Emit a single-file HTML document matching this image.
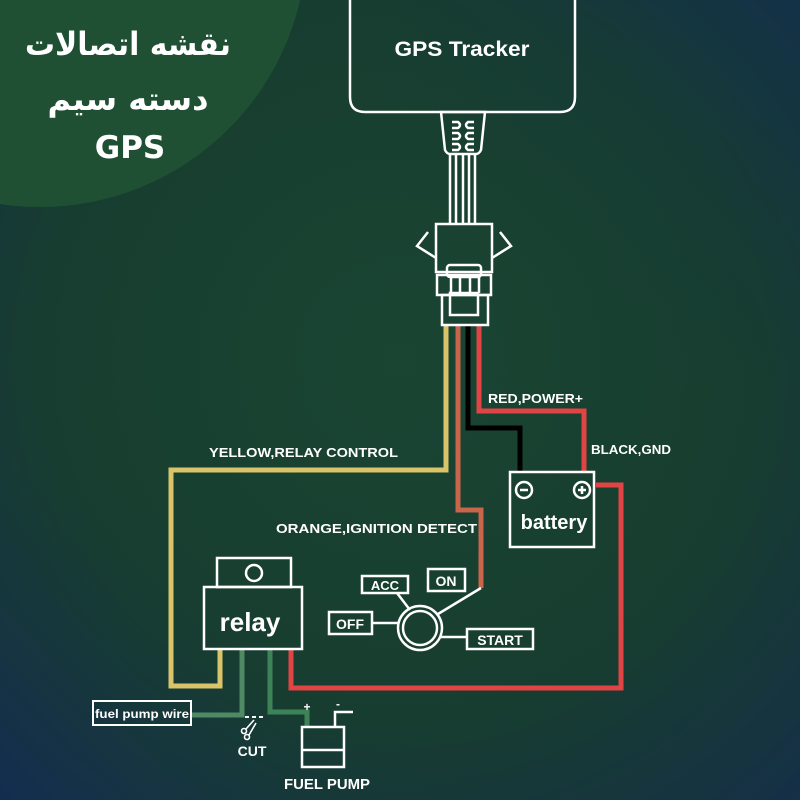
<!DOCTYPE html>
<html><head><meta charset="utf-8"><style>
html,body{margin:0;padding:0;width:800px;height:800px;overflow:hidden}
svg{display:block}
</style></head><body>
<svg width="800" height="800" viewBox="0 0 800 800" xmlns="http://www.w3.org/2000/svg">
<defs>
<radialGradient id="bg" cx="0.5" cy="0.45" r="0.75">
<stop offset="0" stop-color="#1a4532"/>
<stop offset="0.6" stop-color="#173d30"/>
<stop offset="1" stop-color="#152f48"/>
</radialGradient>
<linearGradient id="bg2" x1="1" y1="0" x2="0" y2="1">
<stop offset="0" stop-color="#12304a" stop-opacity="0.7"/>
<stop offset="0.35" stop-color="#17402f" stop-opacity="0"/>
<stop offset="0.7" stop-color="#17402f" stop-opacity="0"/>
<stop offset="1" stop-color="#142c52" stop-opacity="0.8"/>
</linearGradient>
</defs>
<rect width="800" height="800" fill="url(#bg)"/>
<rect width="800" height="800" fill="url(#bg2)"/>
<circle cx="40" cy="-60" r="267" fill="#1f5034"/>
<g font-family="'DejaVu Sans', 'Liberation Sans', sans-serif" fill="#fff" text-anchor="middle" font-weight="bold">
<text x="128" y="55" font-size="32" textLength="206" lengthAdjust="spacingAndGlyphs">نقشه اتصالات</text>
<text x="128" y="110" font-size="32">دسته سیم</text>
<text x="130" y="158" font-size="31">GPS</text>
</g>

<g fill="none" stroke-linejoin="miter">
<polyline points="446,325 446,470 171,470 171,686 220,686 220,649" stroke="#d9c46a" stroke-width="5"/>
<polyline points="458,325 458,510 481,510 481,588" stroke="#c8654a" stroke-width="5"/>
<polyline points="468,325 468,428 520,428 520,472" stroke="#000" stroke-width="5"/>
<polyline points="479,325 479,411 584,411 584,472" stroke="#e04444" stroke-width="5"/>
<polyline points="596,485 621,485 621,688 291,688 291,649" stroke="#e04444" stroke-width="5"/>
<polyline points="191,715 242,715 242,649" stroke="#4f8a64" stroke-width="5"/>
<polyline points="270,649 270,712 307,712 307,727" stroke="#3e8358" stroke-width="5"/>
</g>

<g fill="none" stroke="#fff" stroke-width="2.5">
<path d="M350,-5 V97 Q350,112 365,112 H560 Q575,112 575,97 V-5"/>
<path d="M441,112 H485 L481,150 Q479,154 476,154 H450 Q447,154 445,150 Z"/>
<path d="M452,122 h6 q4,3 0,6 h-6 M452,133 h6 q4,3 0,6 h-6 M452,144 h6 q4,3 0,6 h-6"/>
<path d="M474,122 h-6 q-4,3 0,6 h6 M474,133 h-6 q-4,3 0,6 h6 M474,144 h-6 q-4,3 0,6 h6"/>
<path d="M450,155 V224 M456,155 V224 M463,155 V224 M469,155 V224 M475,155 V224"/>
<rect x="436" y="224" width="56" height="48"/>
<path d="M428,232 L417,246 L436,258 M500,232 L511,246 L492,258"/>
<rect x="447" y="265" width="34" height="12" rx="3"/>
<rect x="437" y="275" width="54" height="20"/>
<path d="M451,277 V293 M460,277 V293 M470,277 V293 M479,277 V293"/>
<rect x="450" y="293" width="28" height="22"/>
<rect x="442" y="295" width="46" height="30"/>
<rect x="510" y="472" width="84" height="75"/>
<circle cx="524" cy="490" r="8"/><path d="M520,490 h8"/>
<circle cx="582" cy="490" r="8"/><path d="M578,490 h8 M582,486 v8"/>
<rect x="217" y="558" width="74" height="29"/>
<circle cx="254" cy="573" r="8"/>
<rect x="204" y="587" width="98" height="62"/>
<circle cx="420" cy="628" r="22"/>
<circle cx="420" cy="628" r="17"/>
<rect x="428" y="569" width="37" height="22"/>
<rect x="362" y="576" width="46" height="17"/>
<rect x="329" y="612" width="43" height="22"/>
<rect x="467" y="629" width="66" height="20"/>
<path d="M372,623 H398 M397,593 L410,610 M438,614 L481,588 M441,637 H467"/>
<rect x="93" y="701" width="98" height="24" stroke-width="2"/>
<rect x="302" y="727" width="42" height="40"/>
<path d="M302,750 H344 M335,727 V712 H353"/>
<path d="M245,717 H266" stroke-dasharray="4,3" stroke-width="2"/>
<circle cx="244" cy="731" r="2.5" stroke-width="1.6"/>
<circle cx="247" cy="737" r="2.5" stroke-width="1.6"/>
<path d="M246,729 L254,720 M249,735 L256,723" stroke-width="1.6"/>
</g>

<g font-family="'Liberation Sans', sans-serif" font-weight="bold" fill="#fff">
<text x="462" y="56" font-size="21" text-anchor="middle" textLength="135" lengthAdjust="spacingAndGlyphs">GPS  Tracker</text>
<text x="554" y="529" font-size="20" text-anchor="middle">battery</text>
<text x="250" y="631" font-size="26" text-anchor="middle">relay</text>
<text x="488" y="403" font-size="13" textLength="95" lengthAdjust="spacingAndGlyphs">RED,POWER+</text>
<text x="591" y="454" font-size="13" textLength="80" lengthAdjust="spacingAndGlyphs">BLACK,GND</text>
<text x="209" y="457" font-size="13" textLength="189" lengthAdjust="spacingAndGlyphs">YELLOW,RELAY CONTROL</text>
<text x="276" y="533" font-size="13" textLength="201" lengthAdjust="spacingAndGlyphs">ORANGE,IGNITION DETECT</text>
<text x="446" y="586" font-size="14" text-anchor="middle">ON</text>
<text x="385" y="590" font-size="13" text-anchor="middle">ACC</text>
<text x="350" y="629" font-size="14" text-anchor="middle">OFF</text>
<text x="500" y="645" font-size="14" text-anchor="middle">START</text>
<text x="142" y="718" font-size="12" text-anchor="middle" textLength="94" lengthAdjust="spacingAndGlyphs">fuel pump wire</text>
<text x="252" y="756" font-size="14" text-anchor="middle">CUT</text>
<text x="327" y="789" font-size="15" text-anchor="middle" textLength="86" lengthAdjust="spacingAndGlyphs">FUEL PUMP</text>
<text x="307" y="711" font-size="12" text-anchor="middle">+</text>
<text x="338" y="708" font-size="12" text-anchor="middle">-</text>
</g>
</svg>
</body></html>
